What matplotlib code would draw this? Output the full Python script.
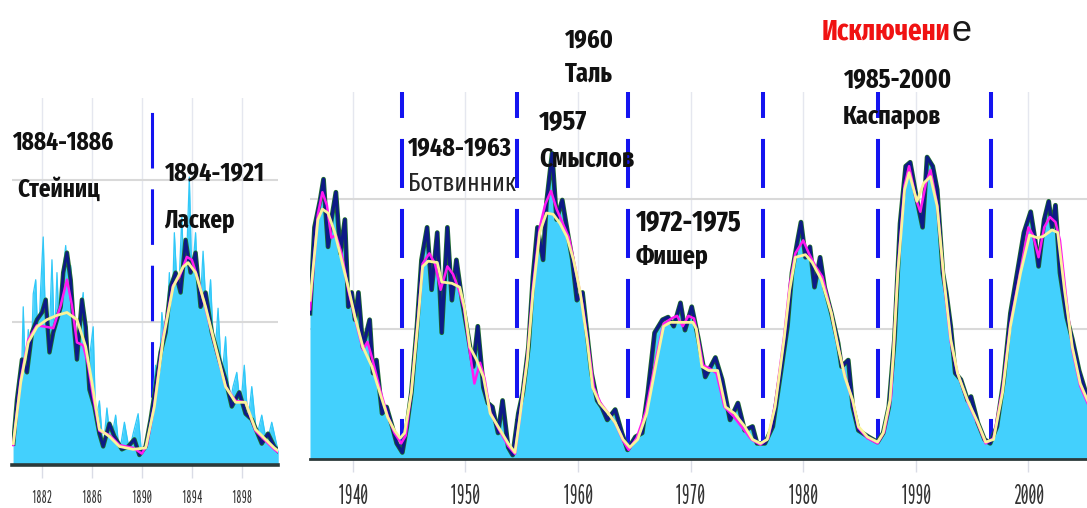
import matplotlib
matplotlib.use("Agg")
import os
import matplotlib.pyplot as plt
from matplotlib import font_manager as fm
from matplotlib.font_manager import FontProperties
from matplotlib.ft2font import FT2Font

# ---------------- data ----------------
# left panel: cycles 12-13
left_years = [1879.7,1880.0,1880.4,1880.8,1881.2,1881.6,1882.0,1882.3,1882.6,1882.9,
              1883.2,1883.5,1883.7,1884.0,1884.3,1884.5,1884.8,1885.2,1885.5,1885.8,
              1886.2,1886.6,1886.9,1887.4,1887.8,1888.4,1888.9,1889.4,1889.8,1890.3,
              1890.7,1891.1,1891.5,1891.9,1892.3,1892.7,1893.1,1893.5,1893.9,1894.3,
              1894.7,1895.1,1895.6,1896.2,1896.7,1897.2,1897.8,1898.3,1898.8,1899.6,
              1900.1,1900.6,1900.9]
left_monthly = [15,46,74,65,93,102,107,116,79,93,
                102,111,135,149,130,104,74,116,97,53,
                41,22,13,29,20,11,13,18,7,13,
                32,55,79,93,125,135,121,158,135,149,
                111,121,93,74,60,41,51,36,32,15,
                22,13,10]

left_daily_years = [1879.7,1879.9,1880.1,1880.3,1880.5,1880.7,1880.9,1881.1,1881.3,1881.5,
                    1881.7,1881.9,1882.1,1882.3,1882.5,1882.8,1883.0,1883.2,1883.4,1883.6,
                    1883.9,1884.1,1884.3,1884.6,1884.8,1885.0,1885.3,1885.6,1885.8,1886.1,
                    1886.3,1886.6,1886.9,1887.2,1887.5,1887.9,1888.2,1888.6,1889.0,1889.3,
                    1889.7,1890.0,1890.4,1890.8,1891.1,1891.3,1891.6,1891.9,1892.2,1892.4,
                    1892.6,1892.9,1893.2,1893.4,1893.6,1893.8,1894.0,1894.3,1894.6,1894.9,
                    1895.2,1895.5,1895.8,1896.1,1896.4,1896.7,1897.0,1897.3,1897.6,1897.9,
                    1898.2,1898.5,1898.8,1899.2,1899.6,1900.0,1900.4,1900.9]
left_daily = [20,35,60,40,111,55,95,60,120,130,
              80,125,160,95,70,144,85,135,90,130,
              154,100,140,80,70,100,121,60,75,97,
              30,45,10,40,15,35,8,30,10,22,
              36,5,20,40,70,45,107,80,135,100,
              163,110,175,120,150,202,130,163,100,150,
              100,130,70,110,60,90,40,55,65,40,
              70,30,55,20,35,15,30,10]

left_smooth_years = [1879.7,1880.3,1880.9,1881.6,1882.4,1883.2,1884.0,1884.8,1885.5,1886.0,
                     1886.6,1887.4,1888.2,1889.3,1890.3,1891.0,1891.7,1892.5,1893.3,1893.7,
                     1894.3,1895.1,1895.9,1896.7,1897.5,1898.3,1899.1,1899.9,1900.6,1900.9]
left_smooth = [15,58,86,97,102,105,107,102,83,58,
               25,20,13,11,12,41,88,125,139,142,
               135,111,83,55,44,44,25,18,12,10]

left_mag_years = [1879.7,1880.3,1880.9,1881.6,1882.3,1882.9,1883.5,1884.0,1884.4,1884.8,
                  1885.3,1885.7,1886.1,1886.6,1887.4,1888.2,1889.3,1890.0,1890.4,1891.0,
                  1891.7,1892.5,1893.0,1893.6,1894.0,1894.5,1895.1,1895.9,1896.7,1897.5,
                  1898.3,1899.1,1899.9,1900.6,1900.9]
left_mag = [14,60,88,98,97,96,112,130,112,86,
            84,70,48,24,21,14,12,8,14,42,
            90,126,132,146,144,130,110,82,55,45,
            44,24,17,11,9]

left_ticks = [1882, 1886, 1890, 1894, 1898]
left_minima = [1890.8]

# right panel: cycles 17-23
right_years = [1936.2,1936.6,1937.1,1937.4,1937.8,1938.1,1938.5,1938.9,1939.3,1939.6,
               1939.9,1940.2,1940.5,1940.9,1941.5,1941.8,1942.1,1942.6,1943.0,1943.5,
               1943.9,1944.4,1944.8,1945.2,1945.7,1946.1,1946.6,1947.0,1947.5,1947.9,
               1948.4,1948.8,1949.2,1949.7,1950.2,1950.7,1951.1,1951.6,1952.0,1952.4,
               1952.9,1953.3,1953.8,1954.2,1954.7,1955.1,1955.6,1956.0,1956.4,1956.9,
               1957.2,1957.7,1958.1,1958.6,1959.0,1959.5,1959.9,1960.4,1960.8,1961.2,
               1961.7,1962.1,1962.6,1963.3,1963.9,1964.4,1965.1,1965.7,1966.2,1966.8,
               1967.5,1968.0,1968.5,1969.1,1969.5,1970.1,1970.7,1971.3,1972.2,1972.8,
               1973.5,1974.2,1974.8,1975.5,1975.9,1976.6,1977.3,1978.0,1978.6,1979.0,
               1979.5,1979.8,1980.2,1980.6,1981.0,1981.5,1981.9,1982.5,1983.1,1983.4,
               1984.0,1984.4,1984.9,1985.8,1986.6,1987.1,1987.6,1988.1,1988.6,1989.1,
               1989.5,1990.1,1990.6,1991.0,1991.5,1991.9,1992.4,1992.7,1993.1,1993.5,
               1994.0,1994.6,1994.9,1995.5,1996.1,1996.6,1997.2,1997.8,1998.4,1999.0,
               1999.6,2000.2,2000.6,2000.9,2001.4,2001.8,2002.1,2002.4,2002.8,2003.4,
               2003.9,2004.5,2005.1,2005.4]
right_monthly = [112,178,199,215,163,184,205,158,184,117,
                 128,107,128,86,107,66,76,35,40,25,
                 12,5,25,51,102,153,178,130,174,97,
                 178,122,153,122,97,71,102,55,43,40,
                 20,45,9,3,35,51,86,140,178,153,
                 197,235,184,199,178,153,122,128,97,66,
                 45,40,30,38,20,7,17,20,51,97,
                 107,109,102,120,99,117,92,63,78,61,
                 30,43,22,25,12,12,25,66,102,143,
                 168,182,155,163,132,155,132,112,89,71,
                 76,40,22,17,13,20,40,92,181,225,
                 228,199,178,232,225,207,143,128,102,66,
                 61,45,48,28,15,12,25,61,112,143,
                 174,190,168,148,184,198,178,195,143,109,
                 92,68,51,45]

right_smooth_years = [1936.2,1936.9,1937.3,1937.8,1938.4,1939.0,1939.6,1940.2,1940.9,1941.7,
                      1942.4,1943.1,1943.7,1944.2,1944.6,1945.2,1945.8,1946.2,1946.7,1947.5,
                      1947.9,1948.8,1949.5,1949.9,1950.4,1951.0,1951.6,1952.2,1952.9,1953.8,
                      1954.4,1954.8,1955.5,1956.0,1956.6,1957.2,1957.8,1958.4,1959.0,1959.6,
                      1960.2,1960.8,1961.3,1961.9,1962.7,1963.3,1964.0,1964.6,1965.3,1966.1,
                      1967.0,1967.6,1968.2,1969.7,1970.2,1970.5,1971.0,1971.6,1972.4,1973.1,
                      1973.9,1974.8,1975.5,1976.2,1976.8,1977.5,1978.3,1978.8,1979.3,1980.2,
                      1980.8,1981.6,1982.5,1983.1,1983.7,1984.4,1984.9,1985.7,1986.6,1987.1,
                      1987.7,1988.0,1988.4,1989.0,1989.4,1990.1,1990.7,1991.3,1991.9,1992.5,
                      1993.1,1993.7,1994.6,1995.5,1996.2,1996.9,1997.7,1998.4,1999.3,2000.1,
                      2000.8,2001.3,2002.1,2002.6,2003.2,2003.9,2004.6,2005.4]
right_smooth = [122,184,192,189,174,153,132,109,86,71,
                51,32,22,16,20,51,107,148,152,151,
                136,135,132,117,86,76,63,35,25,12,
                5,30,76,128,174,189,188,181,171,153,
                128,92,55,43,35,28,15,9,15,35,
                76,102,105,105,105,100,71,68,68,40,
                35,25,15,12,15,40,92,130,155,157,
                151,138,112,86,63,45,25,17,13,20,
                45,80,143,207,220,198,212,217,194,138,
                92,66,45,28,13,15,51,102,143,172,
                170,171,176,174,130,86,58,42]

right_mag_years = [1936.2,1936.9,1937.3,1937.7,1938.1,1938.5,1939.0,1939.6,1940.2,1940.9,
                   1941.3,1941.7,1942.4,1943.1,1943.7,1944.3,1944.7,1945.2,1945.8,1946.2,
                   1946.8,1947.3,1947.8,1948.4,1948.9,1949.5,1949.9,1950.4,1950.8,1951.3,
                   1951.7,1952.2,1952.9,1953.8,1954.4,1954.8,1955.5,1956.0,1956.6,1957.1,
                   1957.6,1958.1,1958.6,1959.2,1959.8,1960.4,1960.9,1961.4,1962.0,1962.7,
                   1963.3,1964.0,1964.5,1965.2,1966.0,1967.0,1967.6,1968.3,1968.8,1969.3,
                   1969.8,1970.3,1970.6,1971.1,1971.6,1972.3,1973.0,1973.8,1974.6,1975.4,
                   1976.2,1976.9,1977.5,1978.3,1978.8,1979.3,1980.0,1980.5,1981.1,1981.7,
                   1982.5,1983.1,1983.7,1984.4,1984.9,1985.7,1986.6,1987.2,1987.8,1988.4,
                   1989.0,1989.4,1990.0,1990.4,1990.9,1991.3,1991.9,1992.5,1993.1,1993.7,
                   1994.6,1995.5,1996.2,1996.9,1997.7,1998.4,1999.3,2000.0,2000.4,2000.9,
                   2001.4,2001.9,2002.4,2002.8,2003.3,2003.9,2004.6,2005.4]
right_mag = [115,188,205,195,170,172,158,130,108,84,
             90,78,54,33,20,12,18,52,108,150,
             158,150,130,148,142,128,115,82,58,74,
             62,36,24,10,4,30,78,132,178,196,
             206,192,182,170,145,118,88,55,43,35,
             28,14,7,16,36,80,104,108,110,102,
             110,108,96,72,70,66,40,33,24,15,
             11,16,42,94,134,158,168,158,148,140,
             112,86,64,44,24,16,12,21,48,145,
             210,225,200,190,212,222,195,136,90,66,
             44,27,12,16,54,104,145,178,172,155,
             178,186,182,168,128,84,56,40]

right_ticks = [1940, 1950, 1960, 1970, 1980, 1990, 2000]
right_minima = [1944.4, 1954.6, 1964.4, 1976.4, 1986.6, 1996.7]

# annotations: text, weight
labels_left = [("1884-1886", "bold"), ("Стейниц", "bold"),
               ("1894-1921", "bold"), ("Ласкер", "bold")]
labels_right = [("1960", "bold"), ("Таль", "bold"),
                ("1957", "bold"), ("Смыслов", "bold"),
                ("1948-1963", "bold"), ("Ботвинник", "normal"),
                ("1972-1975", "bold"), ("Фишер", "bold"),
                ("1985-2000", "bold"), ("Каспаров", "bold")]
exception_red = "Исключени"
exception_tail = "е"

# ---------------- fonts: look for the narrowest face ----------------
W, H = 1087, 508
CYR_TEST = "БИКЛСФШТцщкспрвое"

def _wnum(f):
    w = f.weight
    if isinstance(w, str):
        return {"ultralight": 200, "light": 300, "normal": 400, "regular": 400,
                "book": 400, "medium": 500, "semibold": 600, "demibold": 600,
                "bold": 700, "extra bold": 800, "heavy": 800, "black": 900}.get(w, 400)
    return w

def _rank(f):
    base = os.path.basename(f.fname).lower()
    s = base + " " + f.name.lower()
    if "ultracondensed" in s or "ultra condensed" in s:
        return 0
    if "extracondensed" in s or "extra condensed" in s:
        return 1
    if "semicondensed" in s or "semi condensed" in s:
        return 3
    if "condensed" in s or "narrow" in s:
        return 2
    st = f.stretch
    if isinstance(st, str):
        return {"ultra-condensed": 0, "extra-condensed": 1, "condensed": 2,
                "semi-condensed": 3}.get(st, 9)
    return 0 if st <= 50 else 1 if st <= 62.5 else 2 if st <= 75 else 3 if st <= 87.5 else 9

_cov = {}
def covers(fname, chars):
    key = (fname, chars)
    if key not in _cov:
        try:
            cm = FT2Font(fname).get_charmap()
            _cov[key] = all(ord(c) in cm for c in chars)
        except Exception:
            _cov[key] = False
    return _cov[key]

cands = [f for f in fm.fontManager.ttflist
         if f.style == "normal" and _rank(f) < 9
         and "mono" not in f.name.lower() and "serif" not in f.name.lower()
         and "cjk" not in f.name.lower()]

def find_face(target_w, chars):
    ok = [f for f in cands if abs(_wnum(f) - target_w) <= 100 and covers(f.fname, chars)]
    ok.sort(key=lambda f: (_rank(f), abs(_wnum(f) - target_w),
                           0 if f.name in ("Noto Sans", "Open Sans", "Liberation Sans Narrow", "DejaVu Sans") else 1))
    return ok[0].fname if ok else None

def fprop(fname, fallback_weight):
    if fname:
        return FontProperties(fname=fname)
    return FontProperties(family=["Open Sans", "DejaVu Sans"], weight=fallback_weight)

FP_BOLD = fprop(find_face(700, CYR_TEST), "bold")
FP_REG = fprop(find_face(400, CYR_TEST), "normal")
FP_TICK = fprop(find_face(400, "0123456789"), "normal")

plt.rcParams["lines.scale_dashes"] = False

FILL = "#43D0FD"
SPIKE = "#30C8F8"
NAVY = "#0E1A86"
GREEN = "#1F6E2A"
MAGENTA = "#FF1AF0"
YELLOW = "#FAF39A"
DASH = "#1414F0"

fig = plt.figure(figsize=(W / 100, H / 100), dpi=100)
fig.patch.set_facecolor("white")

def px_axes(x0, x1, ytop, ybot):
    return fig.add_axes([x0 / W, 1 - ybot / H, (x1 - x0) / W, (ybot - ytop) / H])

axL = px_axes(12, 278, 98, 465)
axR = px_axes(310, 1087, 92, 459)

def style(ax, xlim, ylim, ticks, spine_lw):
    ax.set_xlim(*xlim)
    ax.set_ylim(*ylim)
    ax.set_facecolor("white")
    for s in ("top", "left", "right"):
        ax.spines[s].set_visible(False)
    ax.spines["bottom"].set_color("#2C3A3A")
    ax.spines["bottom"].set_linewidth(spine_lw)
    ax.spines["bottom"].set_zorder(10)
    ax.set_yticks([100, 200])
    ax.tick_params(axis="y", length=0, labelleft=False)
    ax.set_xticks(ticks)
    ax.set_xticklabels([str(t) for t in ticks])
    ax.tick_params(axis="x", length=9, width=1, color="#DADCE6", pad=8,
                   labelcolor="#333333")
    ax.set_axisbelow(True)
    ax.grid(axis="y", color="#D9D9D9", lw=1.5, zorder=0)
    ax.grid(axis="x", color="#E5E7EF", lw=1.0, zorder=0)

style(axL, (1879.6, 1900.9), (0, 257.5), left_ticks, 2.6)
style(axR, (1936.2, 2005.2), (0, 282), right_ticks, 2.0)

# dashed minima lines (drawn from top downwards)
for m in left_minima:
    axL.plot([m, m], [257.5, 0], color=DASH, lw=2.2,
             linestyle=(44.6, (40, 15)), zorder=1.5)
for m in right_minima:
    axR.plot([m, m], [282, 0], color=DASH, lw=2.9,
             linestyle=(16.6, (35.3, 15.1)), zorder=1.5)

# left panel
axL.fill_between(left_daily_years, left_daily, 0, color=FILL, lw=0, zorder=2)
axL.plot(left_daily_years, left_daily, color=SPIKE, lw=0.9, zorder=2.2)
axL.fill_between(left_years, left_monthly, 0, color=FILL, lw=0, zorder=2.3)
axL.plot(left_years, left_monthly, color=GREEN, lw=3.2, zorder=3)
axL.plot(left_years, left_monthly, color=NAVY, lw=2.0, zorder=4)
axL.plot(left_mag_years, left_mag, color=MAGENTA, lw=1.8, zorder=5)
axL.plot(left_smooth_years, left_smooth, color=YELLOW, lw=2.0, zorder=6)

# right panel
axR.fill_between(right_years, right_monthly, 0, color=FILL, lw=0, zorder=2)
axR.plot(right_years, right_monthly, color=GREEN, lw=3.4, zorder=3)
axR.plot(right_years, right_monthly, color=NAVY, lw=2.3, zorder=4)
axR.plot(right_mag_years, right_mag, color=MAGENTA, lw=1.8, zorder=5)
axR.plot(right_smooth_years, right_smooth, color=YELLOW, lw=2.0, zorder=6)

# ---------------- annotations (pixel layout: x, baseline, width, cap height) ----------------
pos_left = [(12, 150, 91, 25), (17, 197, 76, 23), (165, 180, 90, 25), (164, 228, 64, 24)]
pos_right = [(565, 47, 48, 20), (565, 82, 48, 19), (539, 130, 48, 20), (539, 167, 96, 19),
             (408, 155, 105, 18), (408, 191, 110, 18), (636, 230, 106, 20), (636, 264, 74, 18),
             (843, 88, 107, 20), (843, 124, 100, 18)]

texts, fits = [], []
for (s, wt), (x, y, w, ch) in zip(labels_left + labels_right, pos_left + pos_right):
    fp = (FP_BOLD if wt == "bold" else FP_REG).copy()
    fp.set_size(18)
    t = fig.text(x / W, 1 - y / H, s, fontproperties=fp,
                 color="#111111" if wt == "bold" else "#262626",
                 va="baseline", ha="left", zorder=20)
    texts.append(t)
    fits.append((w, ch))
fp = FP_BOLD.copy()
fp.set_size(20)
t_red = fig.text(822 / W, 1 - 40 / H, exception_red, fontproperties=fp, color="#F01212",
                 va="baseline", ha="left", zorder=20)
texts.append(t_red)
fits.append((125, 23))

tick_fits = [(axL, 20, 17), (axR, 37, 15)]

fig.canvas.draw()
r = fig.canvas.get_renderer()
for t, (w, ch) in zip(texts, fits):
    bb = t.get_window_extent(r)
    if bb.width > 0:
        s_w = t.get_fontsize() * w / bb.width
        t.set_fontsize(min(s_w ** 0.75 * ch ** 0.25, s_w * 1.12))
for ax, w, ch in tick_fits:
    lbls = ax.get_xticklabels()
    fp = FP_TICK.copy()
    fp.set_size(14)
    for lb in lbls:
        lb.set_fontproperties(fp)
    fig.canvas.draw()
    bb = lbls[0].get_window_extent(r)
    s_w = 14 * w / bb.width if bb.width > 0 else 12
    size = min(s_w ** 0.7 * ch ** 0.3, s_w * 1.15)
    for lb in lbls:
        lb.set_fontsize(size)
fig.canvas.draw()
bb = t_red.get_window_extent(r)
fig.text((bb.x1 + 1) / W, 1 - 41 / H, exception_tail, fontsize=26,
         family=["Liberation Sans", "DejaVu Sans"], color="#1A1A1A",
         va="baseline", ha="left")

fig.savefig("out.png", dpi=100)
